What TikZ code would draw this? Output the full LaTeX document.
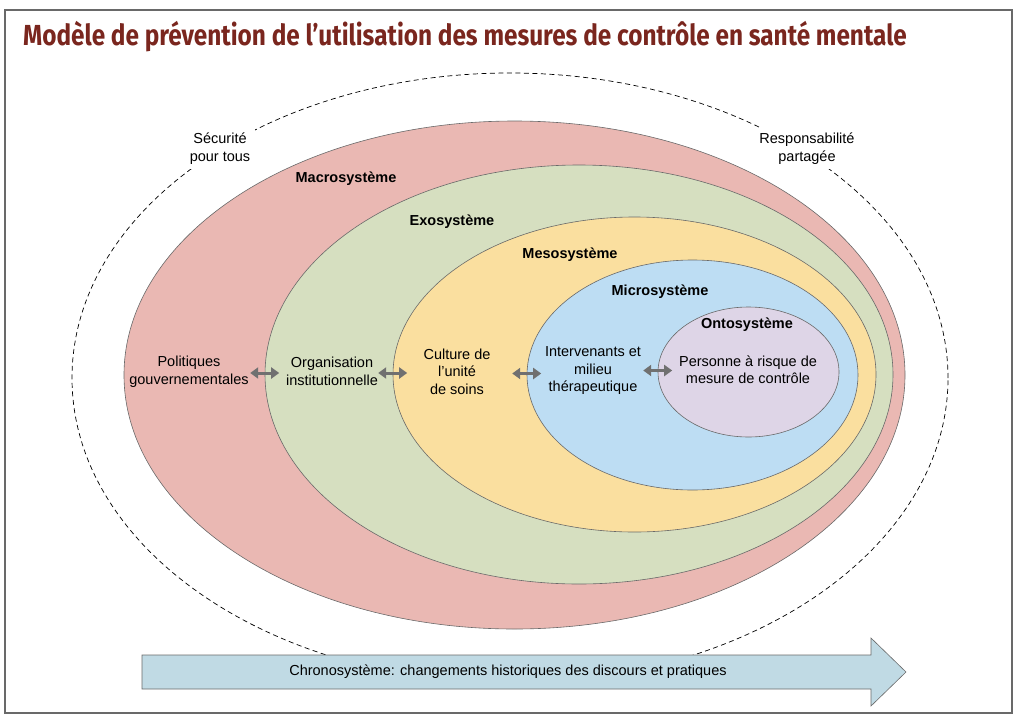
\documentclass[tikz,border=0pt]{standalone}
\usepackage{fontspec}
\setmainfont{Liberation Sans}
\newfontfamily\titlefont[FakeStretch=0.84]{Fira Sans}
\usepackage{xcolor}
\definecolor{macro}{RGB}{234,184,179}
\definecolor{exo}{RGB}{214,223,192}
\definecolor{meso}{RGB}{250,223,159}
\definecolor{micro}{RGB}{189,221,243}
\definecolor{onto}{RGB}{222,213,231}
\definecolor{chrono}{RGB}{192,218,228}
\definecolor{fleche}{RGB}{112,112,112}
\definecolor{contour}{RGB}{105,105,105}
\definecolor{titre}{RGB}{122,38,30}
\usepackage{tikz}
\usetikzlibrary{shapes.geometric,arrows.meta}

\begin{document}
\begin{tikzpicture}[x=1pt,y=-1pt,
    systeme/.style={ellipse, draw=contour, line width=0.6pt, inner sep=0pt},
    etiquette/.style={align=center, inner sep=2pt, font=\fontsize{14.5}{17.5}\selectfont},
    nomsys/.style={inner sep=1pt, font=\fontsize{14.5}{17}\selectfont\bfseries},
    lien/.style={{Triangle[length=8pt,width=11pt]}-{Triangle[length=8pt,width=11pt]}, line width=3pt, draw=fleche}]
                \useasboundingbox (0,0) rectangle (1024,720);
                \draw [contour, line width=1.3pt] (5,10) rectangle (1012,713);
                \node [anchor=base west, inner sep=0pt, text=titre, font=\titlefont\bfseries\fontsize{29}{31}\selectfont] (titre) at (23,45)
                    {Modèle de prévention de l’utilisation des mesures de contrôle en santé mentale};

                % cercles du modele
                \node [systeme, draw=black, line width=0.7pt, dash pattern=on 5pt off 3.5pt, minimum width=876pt, minimum height=610pt] (limite) at (510,378) {};
                \node [etiquette, fill=white, inner sep=5pt] (securite) at (220,148.5) {Sécurité\\pour tous};
                \node [etiquette, fill=white, inner sep=5pt] (responsabilite) at (807,148.5) {Responsabilité\\partagée};
                \node [systeme, fill=macro, minimum width=781pt, minimum height=508pt] (macrosys) at (514.5,375) {};
                \node [systeme, fill=exo, minimum width=628pt, minimum height=419pt] (exosys) at (579,374.5) {};
                \node [systeme, fill=meso, minimum width=483pt, minimum height=315pt] (mesosys) at (634.5,374.5) {};
                \node [systeme, fill=micro, minimum width=331pt, minimum height=230pt] (microsys) at (692.5,375) {};
                \node [systeme, fill=onto, minimum width=181pt, minimum height=130pt] (ontosys) at (748.5,372) {};

                \node [nomsys] (nommacro) at (346,179) {Macrosystème};
                \node [nomsys] (nomexo) at (452,222) {Exosystème};
                \node [nomsys] (nommeso) at (570,255) {Mesosystème};
                \node [nomsys] (nommicro) at (660,292) {Microsystème};
                \node [nomsys] (nomonto) at (747,325) {Ontosystème};

                \node [etiquette] (politiques) at (189,371.5) {Politiques\\gouvernementales};
                \node [etiquette] (organisation) at (332,371.5) {Organisation\\institutionnelle};
                \node [etiquette] (culture) at (457,371.5) {Culture de\\l’unité\\de soins};
                \node [etiquette] (intervenants) at (593,371) {Intervenants et\\milieu\\thérapeutique};
                \node [etiquette] (personne) at (748,369.5) {Personne à risque de\\mesure de contrôle};

                \foreach \sys in {exosys, mesosys, microsys, ontosys}
                    \draw [lien] ([xshift=-14.5pt, yshift=1.5pt]\sys.west) -- ([xshift=14.5pt, yshift=1.5pt]\sys.west);

                % chronosysteme
                \draw [fill=chrono, draw=contour, line width=0.6pt] (142,655) -- (871,655) -- (871,638) -- (906,672)
                    -- (871,706) -- (871,689) -- (142,689) -- cycle;
                \node [etiquette] (chrono) at (508,671.5) {Chronosystème: changements historiques des discours et pratiques};
            \end{tikzpicture}
\end{document}
